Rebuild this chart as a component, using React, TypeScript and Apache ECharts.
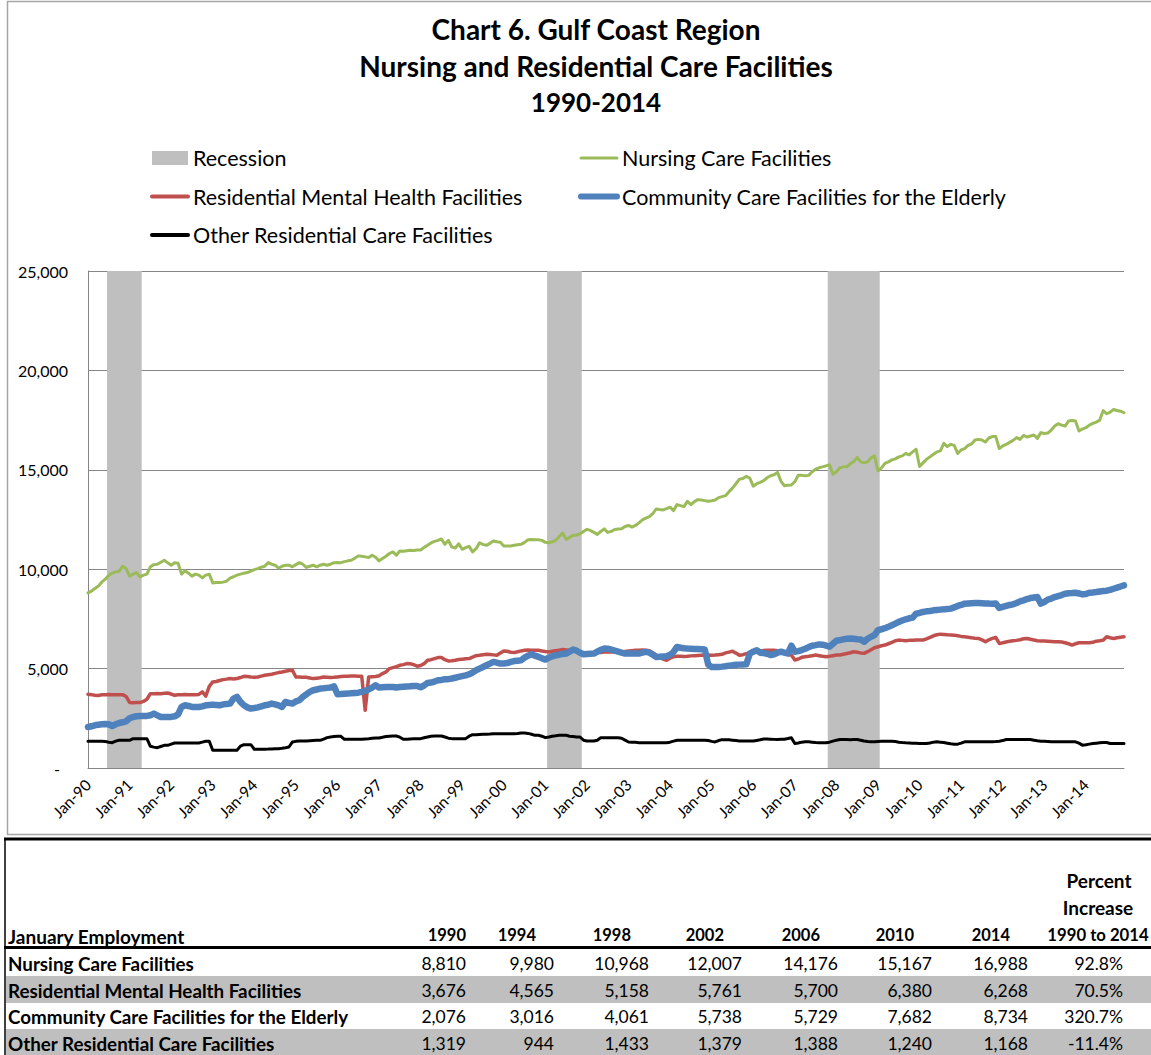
import React, { useEffect, useRef } from 'react';
import * as echarts from 'echarts';

const FONT = 'Lato, "Open Sans", sans-serif';

const MONTHS = ['Jan', 'Feb', 'Mar', 'Apr', 'May', 'Jun', 'Jul', 'Aug', 'Sep', 'Oct', 'Nov', 'Dec'];
const YEARS = Array.from({ length: 25 }, (_, i) => 1990 + i);
const categories = YEARS.flatMap((y) => MONTHS.map((m) => `${m}-${String(y % 100).padStart(2, '0')}`));

// Monthly employment, Jan-90 .. Dec-14 (one row per year)
const nursingCare = [
  8810, 8900, 9030, 9150, 9360, 9500, 9700, 9800, 9866, 9900, 10150, 10030,
  9650, 9750, 9830, 9610, 9700, 9750, 10120, 10230, 10250, 10350, 10450, 10320,
  10200, 10320, 10300, 9750, 9920, 9800, 9650, 9750, 9700, 9560, 9700, 9750,
  9310, 9330, 9330, 9350, 9400, 9550, 9620, 9700, 9750, 9800, 9830, 9900,
  9980, 10030, 10100, 10150, 10330, 10250, 10200, 10050, 10150, 10200, 10200, 10120,
  10230, 10330, 10250, 10090, 10150, 10200, 10120, 10200, 10250, 10200, 10250, 10330,
  10340, 10330, 10380, 10420, 10450, 10550, 10670, 10650, 10620, 10590, 10700, 10600,
  10420, 10540, 10650, 10790, 10870, 10700, 10920, 10900, 10930, 10950, 10940, 10960,
  10968, 11100, 11200, 11320, 11400, 11450, 11520, 11250, 11450, 11120, 11070, 11280,
  11000, 11080, 11150, 10870, 11030, 11330, 11250, 11200, 11300, 11420, 11380, 11360,
  11170, 11170, 11170, 11200, 11230, 11250, 11350, 11480, 11490, 11480, 11480, 11450,
  11350, 11330, 11380, 11450, 11650, 11820, 11500, 11600, 11700, 11720, 11780, 11900,
  12007, 11950, 11850, 11750, 11900, 12030, 11850, 11900, 12000, 12020, 12030, 12150,
  12200, 12120, 12200, 12330, 12480, 12570, 12650, 12800, 13030, 13000, 12980, 13050,
  13120, 12950, 13250, 13200, 13150, 13420, 13250, 13400, 13500, 13480, 13450, 13420,
  13440, 13480, 13600, 13650, 13700, 13900, 14080, 14300, 14530, 14560, 14670, 14580,
  14176, 14300, 14370, 14450, 14600, 14700, 14750, 14870, 14420, 14200, 14220, 14240,
  14400, 14730, 14720, 14700, 14720, 14900, 15030, 15100, 15150, 15200, 15250, 14780,
  14900, 15100, 15150, 15150, 15300, 15420, 15620, 15400, 15350, 15400, 15600, 15700,
  14950, 15100, 15320, 15400, 15500, 15550, 15650, 15700, 15820, 15750, 15900, 16030,
  15167, 15350, 15530, 15650, 15780, 15900, 15950, 16330, 16170, 16280, 16230, 15820,
  16000, 16070, 16230, 16300, 16500, 16530, 16500, 16400, 16600, 16670, 16670, 16070,
  16200, 16280, 16380, 16480, 16620, 16530, 16730, 16650, 16700, 16750, 16580, 16870,
  16830, 16850, 17000, 17200, 17320, 17250, 17200, 17450, 17480, 17450, 16950, 17050,
  17117, 17250, 17330, 17400, 17500, 17980, 17820, 17900, 18030, 17980, 17950, 17870,
];

const residentialMental = [
  3710, 3690, 3660, 3650, 3680, 3690, 3700, 3690, 3690, 3690, 3690, 3600,
  3300, 3280, 3290, 3290, 3350, 3460, 3740, 3740, 3750, 3740, 3760, 3770,
  3720, 3660, 3680, 3690, 3700, 3690, 3690, 3690, 3700, 3830, 3620, 4110,
  4330, 4350, 4400, 4446, 4470, 4500, 4480, 4500, 4550, 4614, 4600, 4580,
  4565, 4580, 4620, 4664, 4690, 4715, 4760, 4799, 4830, 4866, 4900, 4916,
  4580, 4580, 4570, 4560, 4530, 4497, 4520, 4540, 4580, 4570, 4550, 4560,
  4580, 4600, 4614, 4620, 4630, 4631, 4620, 4614, 2903, 4580, 4590, 4600,
  4640, 4750, 4832, 5000, 5050, 5100, 5168, 5200, 5252, 5240, 5200, 5117,
  5158, 5250, 5420, 5450, 5500, 5554, 5560, 5450, 5386, 5400, 5420, 5453,
  5470, 5490, 5503, 5580, 5650, 5671, 5700, 5722, 5710, 5690, 5671, 5780,
  5889, 5870, 5820, 5805, 5850, 5890, 5923, 5930, 5920, 5923, 5920, 5890,
  5860, 5839, 5870, 5900, 5930, 5956, 5940, 5923, 5920, 5880, 5820, 5770,
  5761, 5780, 5800, 5805, 5810, 5830, 5839, 5840, 5840, 5839, 5840, 5860,
  5880, 5900, 5923, 5923, 5930, 5923, 5900, 5800, 5671, 5560, 5480, 5420,
  5520, 5600, 5621, 5621, 5610, 5620, 5640, 5650, 5660, 5671, 5671, 5680,
  5671, 5680, 5700, 5720, 5789, 5830, 5872, 5780, 5671, 5700, 5755, 5800,
  5830, 5872, 5890, 5910, 5920, 5923, 5923, 5900, 5850, 5800, 5700, 5683,
  5433, 5480, 5567, 5600, 5620, 5650, 5683, 5650, 5620, 5600, 5620, 5650,
  5683, 5683, 5720, 5760, 5800, 5850, 5820, 5790, 5767, 5850, 5950, 6050,
  6100, 6150, 6183, 6250, 6320, 6400, 6433, 6420, 6400, 6420, 6430, 6433,
  6433, 6440, 6500, 6570, 6650, 6700, 6733, 6720, 6700, 6690, 6683, 6650,
  6620, 6600, 6580, 6550, 6530, 6517, 6450, 6350, 6450, 6520, 6567, 6267,
  6300, 6340, 6380, 6400, 6420, 6450, 6500, 6517, 6480, 6440, 6400, 6383,
  6383, 6370, 6360, 6350, 6350, 6340, 6300, 6250, 6183, 6250, 6300, 6300,
  6300, 6300, 6320, 6380, 6400, 6433, 6600, 6550, 6517, 6550, 6580, 6600,
];

const communityElderly = [
  2064, 2100, 2150, 2180, 2200, 2210, 2200, 2114, 2200, 2265, 2300, 2350,
  2500, 2567, 2600, 2618, 2618, 2620, 2650, 2735, 2650, 2567, 2567, 2570,
  2570, 2600, 2700, 3071, 3155, 3120, 3071, 3071, 3071, 3100, 3155, 3170,
  3188, 3170, 3155, 3200, 3220, 3239, 3490, 3574, 3323, 3155, 3050, 2987,
  3016, 3050, 3100, 3155, 3180, 3239, 3200, 3150, 3071, 3323, 3280, 3239,
  3350, 3407, 3574, 3700, 3826, 3910, 3950, 3994, 4010, 4030, 4044, 4111,
  3708, 3720, 3740, 3742, 3760, 3775, 3790, 3826, 3880, 3950, 4044, 4161,
  4044, 4060, 4077, 4080, 4077, 4050, 4077, 4090, 4100, 4110, 4128, 4128,
  4061, 4150, 4279, 4300, 4350, 4413, 4430, 4463, 4470, 4500, 4540, 4580,
  4620, 4660, 4715, 4800, 4916, 5000, 5080, 5168, 5250, 5336, 5300, 5252,
  5260, 5280, 5336, 5380, 5400, 5420, 5550, 5650, 5722, 5650, 5587, 5520,
  5453, 5550, 5620, 5671, 5700, 5740, 5755, 5850, 5956, 5900, 5800, 5722,
  5738, 5750, 5755, 5850, 5950, 6007, 6000, 5956, 5900, 5850, 5800, 5755,
  5755, 5755, 5755, 5760, 5800, 5839, 5800, 5700, 5587, 5600, 5610, 5621,
  5700, 5839, 6091, 6050, 6020, 6007, 6000, 5990, 5980, 5970, 5960, 5200,
  5084, 5084, 5084, 5100, 5120, 5150, 5168, 5190, 5200, 5210, 5218, 5755,
  5850, 5923, 5800, 5780, 5750, 5683, 5720, 5800, 5850, 5800, 5767, 6150,
  5850, 5880, 5933, 6000, 6080, 6150, 6180, 6217, 6200, 6150, 6100, 6250,
  6400, 6433, 6470, 6500, 6517, 6500, 6480, 6467, 6350, 6500, 6600, 6683,
  6933, 6980, 7030, 7100, 7180, 7260, 7350, 7420, 7480, 7530, 7567, 7767,
  7800, 7850, 7880, 7900, 7930, 7950, 7967, 7980, 8000, 8017, 8080, 8150,
  8200, 8267, 8280, 8290, 8300, 8300, 8290, 8280, 8270, 8267, 8270, 8050,
  8100, 8150, 8200, 8233, 8300, 8380, 8433, 8500, 8550, 8580, 8600, 8267,
  8350, 8467, 8520, 8600, 8650, 8700, 8767, 8790, 8800, 8817, 8780, 8733,
  8750, 8817, 8830, 8850, 8880, 8900, 8920, 8960, 9017, 9070, 9130, 9183,
];

const otherResidential = [
  1342, 1342, 1340, 1342, 1340, 1330, 1300, 1275, 1350, 1393, 1393, 1393,
  1393, 1477, 1477, 1477, 1477, 1477, 1091, 1050, 1023, 1080, 1141, 1141,
  1200, 1258, 1258, 1258, 1258, 1258, 1258, 1258, 1258, 1300, 1342, 1342,
  889, 889, 889, 889, 889, 889, 889, 889, 1100, 1175, 1175, 1175,
  944, 940, 940, 945, 950, 960, 970, 973, 990, 1020, 1057, 1309,
  1340, 1359, 1359, 1359, 1370, 1380, 1393, 1393, 1450, 1527, 1560, 1580,
  1594, 1594, 1443, 1443, 1443, 1443, 1443, 1443, 1460, 1470, 1500, 1510,
  1510, 1550, 1580, 1600, 1611, 1611, 1550, 1443, 1443, 1460, 1470, 1477,
  1477, 1520, 1560, 1600, 1611, 1611, 1611, 1560, 1500, 1477, 1477, 1477,
  1477, 1477, 1600, 1678, 1678, 1690, 1700, 1700, 1710, 1728, 1728, 1720,
  1728, 1728, 1728, 1728, 1740, 1762, 1762, 1740, 1700, 1644, 1644, 1600,
  1527, 1560, 1600, 1620, 1644, 1644, 1644, 1600, 1580, 1560, 1560, 1400,
  1359, 1359, 1359, 1400, 1527, 1527, 1527, 1527, 1527, 1527, 1500, 1400,
  1309, 1300, 1290, 1275, 1275, 1275, 1275, 1275, 1275, 1275, 1275, 1275,
  1300, 1350, 1393, 1393, 1393, 1393, 1393, 1393, 1393, 1393, 1393, 1380,
  1340, 1309, 1380, 1426, 1426, 1420, 1400, 1380, 1360, 1359, 1359, 1359,
  1359, 1388, 1420, 1460, 1460, 1450, 1440, 1433, 1440, 1450, 1480, 1517,
  1233, 1260, 1300, 1317, 1317, 1300, 1280, 1267, 1267, 1267, 1300, 1350,
  1400, 1433, 1433, 1433, 1420, 1433, 1433, 1400, 1360, 1330, 1317, 1317,
  1330, 1340, 1350, 1350, 1350, 1330, 1300, 1280, 1267, 1260, 1250, 1240,
  1233, 1233, 1233, 1260, 1300, 1317, 1300, 1280, 1250, 1220, 1200, 1200,
  1250, 1317, 1317, 1317, 1317, 1317, 1317, 1317, 1317, 1317, 1330, 1350,
  1380, 1433, 1433, 1433, 1433, 1433, 1433, 1433, 1433, 1400, 1370, 1350,
  1340, 1330, 1317, 1317, 1317, 1317, 1317, 1317, 1317, 1317, 1250, 1150,
  1168, 1200, 1233, 1250, 1270, 1283, 1283, 1233, 1233, 1233, 1233, 1233,
];

// Recession months shaded (first month, last month)
const recessions = [
  ['Jul-90', 'Apr-91'],
  ['Feb-01', 'Nov-01'],
  ['Nov-07', 'Jan-09'],
];
const Y_MAX = 25000;

// Table
const tableYears = ['1990', '1994', '1998', '2002', '2006', '2010', '2014'];
const tableRowNames = [
  'Nursing Care Facilities',
  'Residential Mental Health Facilities',
  'Community Care Facilities for the Elderly',
  'Other Residential Care Facilities',
];
const tableNursing = [8810, 9980, 10968, 12007, 14176, 15167, 16988];
const tableResidential = [3676, 4565, 5158, 5761, 5700, 6380, 6268];
const tableCommunity = [2076, 3016, 4061, 5738, 5729, 7682, 8734];
const tableOther = [1319, 944, 1433, 1379, 1388, 1240, 1168];
const tablePercent = ['92.8%', '70.5%', '320.7%', '-11.4%'];

const SERIES_NAMES = [
  'Recession',
  'Nursing Care Facilities',
  'Residential Mental Health Facilities',
  'Community Care Facilities for the Elderly',
  'Other Residential Care Facilities',
];
const COLORS = {
  recession: '#bfbfbf',
  nursing: '#9bbb59',
  residential: '#c0504d',
  community: '#4f81bd',
  other: '#000000',
};

function buildGraphics() {
  const els: any[] = [];
  // chart frame
  els.push({
    type: 'rect',
    shape: { x: 7.5, y: 1.5, width: 1170, height: 833 },
    style: { fill: 'none', stroke: '#a6a6a6', lineWidth: 1.5 },
    silent: true,
  });
  // titles
  const titles = ['Chart 6. Gulf Coast Region', 'Nursing and Residential Care Facilities', '1990-2014'];
  const titleY = [29, 66, 102];
  const titleSize = [28, 28, 26];
  titles.forEach((t, i) => {
    els.push({
      type: 'text',
      x: 596,
      y: titleY[i],
      style: { text: t, fontFamily: FONT, fontSize: titleSize[i], fontWeight: 'bold', fill: '#000', align: 'center', verticalAlign: 'middle' },
      silent: true,
    });
  });

  // table
  const rowY = [963, 990, 1016, 1043];
  const rowTop = [949, 976, 1003, 1029];
  const rowH = [27, 27, 26, 26];
  [1, 3].forEach((r) => {
    els.push({
      type: 'rect',
      shape: { x: 6, y: rowTop[r], width: 1145, height: rowH[r] },
      style: { fill: '#bfbfbf' },
      silent: true,
    });
  });
  els.push({ type: 'line', shape: { x1: 4, y1: 839, x2: 1151, y2: 839 }, style: { stroke: '#000', lineWidth: 3 }, silent: true });
  els.push({ type: 'line', shape: { x1: 4, y1: 947.5, x2: 1151, y2: 947.5 }, style: { stroke: '#000', lineWidth: 3 }, silent: true });
  els.push({ type: 'line', shape: { x1: 5, y1: 838, x2: 5, y2: 1055 }, style: { stroke: '#000', lineWidth: 1.5 }, silent: true });

  const txt = (text: string, x: number, y: number, align: string, size: number, isBold: boolean) => ({
    type: 'text', x, y,
    style: {
      text, fontFamily: FONT, fontSize: size, fontWeight: isBold ? 'bold' : 'normal',
      fill: '#000', align, verticalAlign: 'middle',
    },
    silent: true,
  });
  const colRight = [466, 554, 649, 742, 838, 932, 1028];
  const pctRight = 1123;
  els.push(txt('January Employment', 8, 936, 'left', 19, true));
  tableYears.forEach((y, i) => {
    els.push(txt(y, i === 0 ? colRight[i] : colRight[i] - 18, 935, 'right', 16.5, true));
  });
  els.push(txt('Percent', 1099, 880, 'center', 19, true));
  els.push(txt('Increase', 1098, 907, 'center', 19, true));
  els.push(txt('1990 to 2014', 1098, 935, 'center', 16.7, true));

  const rows = [tableNursing, tableResidential, tableCommunity, tableOther];
  rows.forEach((vals, r) => {
    els.push(txt(tableRowNames[r], 8, rowY[r], 'left', 18.8, true));
    vals.forEach((v, c) => {
      els.push(txt(v.toLocaleString('en-US'), colRight[c], rowY[r], 'right', 17.5, false));
    });
    els.push(txt(tablePercent[r], pctRight, rowY[r], 'right', 17.5, false));
  });
  return els;
}

export default function App() {
  const ref = useRef<HTMLDivElement>(null);
  useEffect(() => {
    if (!ref.current) return;
    const chart = echarts.init(ref.current, null, { renderer: 'svg' });
    const legendText = { fontFamily: FONT, fontSize: 21.5, color: '#000', lineHeight: 22 };
    const hideSymbol = { opacity: 0 };
    const recessionData = recessions.map(([s, e]) => [categories.indexOf(s), categories.indexOf(e)]);
    const option: any = {
      animation: false,
      backgroundColor: '#ffffff',
      textStyle: { fontFamily: FONT },
      grid: { left: 88, top: 271, right: 27, bottom: 287, containLabel: false },
      legend: [
        {
          left: 150, top: 147, padding: 0, orient: 'vertical', itemWidth: 36, itemHeight: 14, itemGap: 16.5,
          selectedMode: false, textStyle: legendText,
          data: [
            { name: SERIES_NAMES[0], icon: 'rect', itemStyle: { borderWidth: 0 } },
            { name: SERIES_NAMES[2], itemStyle: hideSymbol, lineStyle: { width: 4 } },
            { name: SERIES_NAMES[4], itemStyle: hideSymbol, lineStyle: { width: 4 } },
          ],
        },
        {
          left: 578, top: 147, padding: 0, orient: 'vertical', itemWidth: 36, itemHeight: 14, itemGap: 16.5,
          selectedMode: false, textStyle: legendText,
          data: [
            { name: SERIES_NAMES[1], itemStyle: hideSymbol, lineStyle: { width: 3 } },
            { name: SERIES_NAMES[3], itemStyle: hideSymbol, lineStyle: { width: 6 } },
          ],
        },
      ],
      xAxis: {
        type: 'category',
        data: categories,
        boundaryGap: false,
        axisLine: { show: true, lineStyle: { color: '#868686', width: 1 } },
        axisTick: { show: false },
        axisLabel: {
          interval: (i: number) => i % 12 === 0,
          rotate: 45,
          margin: 14,
          fontFamily: FONT,
          fontSize: 15.5,
          color: '#000',
        },
        splitLine: { show: false },
      },
      yAxis: {
        type: 'value',
        min: 0,
        max: Y_MAX,
        interval: 5000,
        axisLine: { show: true, lineStyle: { color: '#868686', width: 1 } },
        axisTick: { show: false },
        splitLine: { show: true, lineStyle: { color: '#868686', width: 1 } },
        axisLabel: {
          margin: 20,
          fontFamily: FONT,
          fontSize: 16,
          color: '#000',
          formatter: (v: number) => (v === 0 ? '{d|-}' : v.toLocaleString('en-US')),
          rich: { d: { fontFamily: FONT, fontSize: 16, color: '#000', padding: [0, 8, 0, 0] } },
        },
      },
      series: [
        {
          name: SERIES_NAMES[0],
          type: 'custom',
          data: recessionData,
          encode: { x: [0, 1] },
          itemStyle: { color: COLORS.recession },
          silent: true,
          z: 1,
          renderItem: (params: any, api: any) => {
            const start = api.coord([api.value(0), 0]);
            const end = api.coord([api.value(1), Y_MAX]);
            const half = api.size([1, 0])[0] / 2;
            return {
              type: 'rect',
              shape: {
                x: start[0] - half,
                y: end[1],
                width: end[0] - start[0] + 2 * half,
                height: start[1] - end[1],
              },
              style: { fill: COLORS.recession },
            };
          },
        },
        {
          name: SERIES_NAMES[1], type: 'line', data: nursingCare, symbol: 'none',
          lineStyle: { color: COLORS.nursing, width: 3, cap: 'round', join: 'round' },
          itemStyle: { color: COLORS.nursing }, z: 2,
        },
        {
          name: SERIES_NAMES[2], type: 'line', data: residentialMental, symbol: 'none',
          lineStyle: { color: COLORS.residential, width: 3.5, cap: 'round', join: 'round' },
          itemStyle: { color: COLORS.residential }, z: 3,
        },
        {
          name: SERIES_NAMES[3], type: 'line', data: communityElderly, symbol: 'none',
          lineStyle: { color: COLORS.community, width: 6.5, cap: 'round', join: 'round' },
          itemStyle: { color: COLORS.community }, z: 4,
        },
        {
          name: SERIES_NAMES[4], type: 'line', data: otherResidential, symbol: 'none',
          lineStyle: { color: COLORS.other, width: 3, cap: 'round', join: 'round' },
          itemStyle: { color: COLORS.other }, z: 5,
        },
      ],
      graphic: buildGraphics(),
    };
    chart.setOption(option);
    return () => chart.dispose();
  }, []);
  return (
    <div
      ref={ref}
      style={{ position: 'absolute', left: 0, top: 0, width: 1151, height: 1055, background: '#fff' }}
    />
  );
}
